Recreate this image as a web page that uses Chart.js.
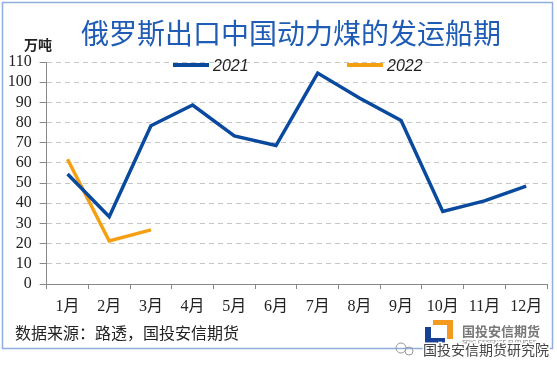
<!DOCTYPE html>
<html>
<head>
<meta charset="utf-8">
<script src="https://cdn.jsdelivr.net/npm/chart.js@4"></script>
<style>
  html, body { margin: 0; padding: 0; background: #fff; }
  #wrap { position: relative; width: 557px; height: 376px; }
</style>
</head>
<body>
<div id="wrap"><canvas id="mycanvas" width="557" height="376"></canvas></div>
<script>
// data
var months = ['1月', '2月', '3月', '4月', '5月', '6月', '7月', '8月', '9月', '10月', '11月', '12月'];
var ship2021 = [54.5, 33.3, 78.4, 88.7, 73.4, 68.6, 104.5, 92.2, 81, 35.9, 41.2, 48.5];
var ship2022 = [61.8, 21.3, 26.8, null, null, null, null, null, null, null, null, null];
var yMin = 0, yMax = 110, yStep = 10;

var titleText = '俄罗斯出口中国动力煤的发运船期';
var unitText = '万吨';
var sourceText = '数据来源：路透，国投安信期货';

var BLUE = '#0a4a9e';
var ORANGE = '#f5a012';
var CJK = '"Noto Sans CJK SC", "Noto Sans", sans-serif';

// extra drawing: frame, title, unit, legend, source, logo
var decor = {
    id: 'decor',
    afterDraw: function(chart) {
        var ctx = chart.ctx;
        ctx.save();

        // frame
        ctx.strokeStyle = '#8eaee0';
        ctx.lineWidth = 1.5;
        ctx.strokeRect(2.5, 2.5, 550, 346);

        // title
        ctx.fillStyle = '#1f5cb5';
        ctx.font = '28px ' + CJK;
        ctx.textAlign = 'center';
        ctx.textBaseline = 'middle';
        ctx.fillText(titleText, 291, 33);

        // unit
        ctx.fillStyle = '#222';
        ctx.font = 'bold 14px ' + CJK;
        ctx.fillText(unitText, 38, 45);

        // legend inside plot
        ctx.font = 'italic 16px "Liberation Sans", Arial, sans-serif';
        ctx.textAlign = 'left';
        var items = [[173, 0], [347, 1]];
        items.forEach(function(it) {
            var ds = chart.data.datasets[it[1]];
            ctx.strokeStyle = ds.borderColor;
            ctx.lineWidth = 4;
            ctx.beginPath();
            ctx.moveTo(it[0], 65);
            ctx.lineTo(it[0] + 36, 65);
            ctx.stroke();
            ctx.fillStyle = '#222';
            ctx.fillText(ds.label, it[0] + 40, 67);
        });

        // source
        ctx.fillStyle = '#222';
        ctx.font = '16px ' + CJK;
        ctx.fillText(sourceText, 15, 333);

        // logo mark
        ctx.fillStyle = '#f39a1e';
        ctx.fillRect(433, 320, 20, 5);
        ctx.fillRect(447, 320, 6, 19);
        ctx.fillStyle = '#173f93';
        ctx.fillRect(425, 327, 6, 16);
        ctx.fillRect(425, 338, 20, 5);
        ctx.fillStyle = '#777';
        ctx.font = 'bold 13px ' + CJK;
        ctx.fillText('国投安信期货', 462, 331);
        ctx.font = '6px "Liberation Sans", Arial, sans-serif';
        ctx.fillText('SDIC ESSENCE FUTURES', 462, 342);

        // watermark
        ctx.strokeStyle = '#999';
        ctx.lineWidth = 1;
        ctx.beginPath();
        ctx.arc(401, 348, 5, 0, Math.PI * 2);
        ctx.stroke();
        ctx.beginPath();
        ctx.arc(409, 351, 4, 0, Math.PI * 2);
        ctx.stroke();
        ctx.font = '14px ' + CJK;
        ctx.lineWidth = 3;
        ctx.strokeStyle = '#fff';
        ctx.strokeText('国投安信期货研究院', 423, 350);
        ctx.fillStyle = '#444';
        ctx.fillText('国投安信期货研究院', 423, 350);

        ctx.restore();
    }
};

var ctx = document.getElementById('mycanvas');
var myChart = new Chart(ctx, {
    type: 'line',
    data: {
        labels: months,
        datasets: [{
            label: '2021',
            data: ship2021,
            borderColor: BLUE,
            backgroundColor: BLUE,
            borderWidth: 3.5,
            pointRadius: 0,
            tension: 0
        }, {
            label: '2022',
            data: ship2022,
            borderColor: ORANGE,
            backgroundColor: ORANGE,
            borderWidth: 3.5,
            pointRadius: 0,
            tension: 0
        }]
    },
    options: {
        responsive: false,
        animation: false,
        layout: { padding: { left: 0, right: 10, top: 62, bottom: 0 } },
        plugins: {
            legend: { display: false },
            title: { display: false },
            tooltip: { enabled: false }
        },
        scales: {
            x: {
                offset: true,
                afterFit: function(scale) { scale.height = 92; },
                grid: {
                    offset: true,
                    drawOnChartArea: false,
                    drawTicks: true,
                    tickLength: 5,
                    tickColor: '#888'
                },
                border: { color: '#888', width: 1 },
                ticks: {
                    padding: 8,
                    color: '#222',
                    maxRotation: 0,
                    autoSkip: false,
                    font: { family: '"Liberation Serif", "Noto Sans CJK SC", serif', size: 16 }
                }
            },
            y: {
                min: yMin,
                max: yMax,
                afterFit: function(scale) { scale.width = 46.7; },
                grid: {
                    color: '#c6c6c6',
                    lineWidth: 1,
                    tickColor: '#888',
                    tickLength: 7
                },
                border: { color: '#888', width: 1, dash: [5, 4] },
                ticks: {
                    stepSize: yStep,
                    autoSkip: false,
                    padding: 8,
                    color: '#222',
                    font: { family: '"Liberation Serif", serif', size: 16 }
                }
            }
        }
    },
    plugins: [decor]
});
</script>
</body>
</html>
